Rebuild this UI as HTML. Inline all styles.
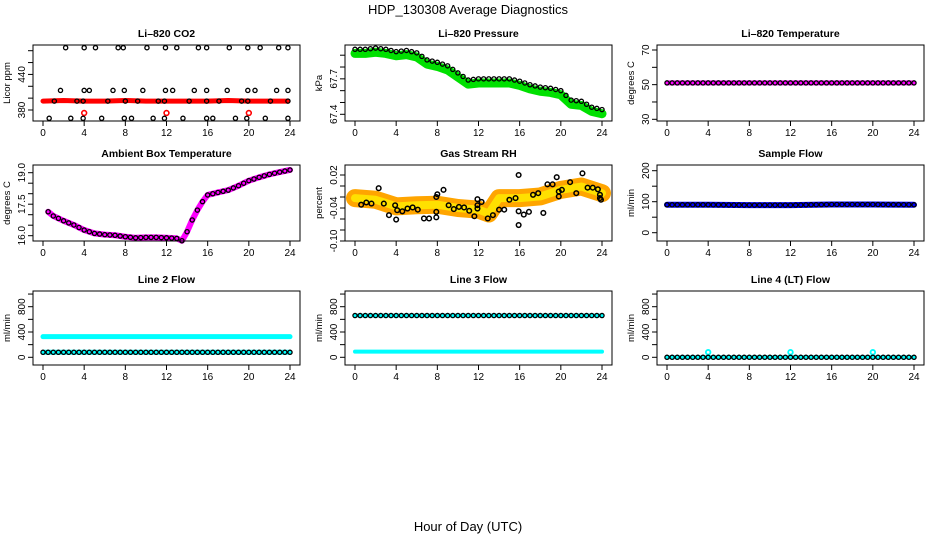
<!DOCTYPE html>
<html><head><meta charset="utf-8">
<style>
body{margin:0;background:#fff;}
svg{display:block;font-family:"Liberation Sans",sans-serif;}
</style></head>
<body>
<svg id="c" width="936" height="540" viewBox="0 0 936 540">
<text x="468" y="14" text-anchor="middle" font-size="13">HDP_130308  Average Diagnostics</text>
<text x="468" y="531" text-anchor="middle" font-size="13">Hour of Day (UTC)</text>
</svg>
<script>
// ---- data arrays ----
const xTicks = [0,4,8,12,16,20,24];
// CO2
const co2Hours = [2.2,4,5.1,7.3,7.8,10.1,11.9,13,15.1,15.9,18.1,19.9,21.1,22.9,23.8, 1.7,4,4.5,6.8,7.9,9.7,11.9,12.6,14.7,15.9,17.9,19.9,20.6,22.7,23.8, 1.1,3.3,3.9,6.3,8,9.2,11.2,11.8,14.2,15.9,17.1,19.3,19.9,22.1,23.8, 0.6,2.7,3.9,5.7,7.9,8.6,10.7,11.8,13.6,15.9,16.5,18.7,19.8,21.6,23.8];
const co2Values = [485,485,485,485,485,485,485,485,485,485,485,485,485,485,485, 413,413,413,413,413,413,413,413,413,413,413,413,413,413,413, 395,395,395,395,395,395,395,395,395,395,395,395,395,395,395, 366,366,366,366,366,366,366,366,366,366,366,366,366,366,366];
const co2RedHours = [0,2,4,6,8,10,12,14,16,18,20,22,23.8];
const co2RedValues = [395,396,395,395,396,395,395,395,395,396,395,395,395];
const co2RedOutHours = [4,12,20];
const co2RedOutValues = [375,375,375];
// Pressure
const presHours = [0,1,2,3,4,5,6,7,8,9,10,11,12,13,14,15,16,17,18,19,20,21,22,23,24];
const presValues = [67.95,67.95,67.96,67.95,67.93,67.94,67.92,67.86,67.84,67.81,67.75,67.69,67.70,67.70,67.70,67.70,67.68,67.65,67.63,67.62,67.60,67.52,67.51,67.46,67.44];
// Li-820 temperature
const ltHours = [0,2,4,6,8,10,12,14,16,18,20,22,24];
const ltValues = [51,51,51,51,51,51,51,51,51,51,51,51,51];
// Ambient box temperature
const abHours = [0.5,1,2,3,4,5,6,7,8,9,10,11,12,13,13.5,14,14.5,15,15.5,16,17,18,19,20,21,22,23,24];
const abValues = [17.14,16.94,16.71,16.51,16.27,16.11,16.05,16.02,15.95,15.9,15.92,15.92,15.9,15.87,15.76,16.19,16.75,17.22,17.62,17.94,18.06,18.17,18.38,18.62,18.78,18.92,19.03,19.13];
// Gas stream RH
const rhHours = [0.6,1.1,1.6,2.3,2.8,3.3,3.9,4,4.1,4.6,5.1,5.6,6.1,6.7,7.2,7.9,7.9,7.9,8.0,8.6,9.1,9.6,10.1,10.6,11.1,11.6,11.9,11.9,11.9,12.3,12.9,13.4,14,14.5,15,15.6,15.9,15.9,15.9,16.4,16.9,17.3,17.8,18.3,18.7,19.2,19.6,19.8,19.8,20.1,20.9,21.5,22.1,22.6,23.1,23.6,23.8,23.8,23.9];
const rhValues = [-0.034,-0.030,-0.032,-0.004,-0.032,-0.053,-0.035,-0.061,-0.044,-0.046,-0.041,-0.039,-0.043,-0.059,-0.059,-0.020,-0.047,-0.057,-0.015,-0.007,-0.035,-0.042,-0.038,-0.039,-0.045,-0.055,-0.024,-0.035,-0.041,-0.029,-0.059,-0.053,-0.043,-0.043,-0.025,-0.022,0.020,-0.046,-0.071,-0.052,-0.047,-0.016,-0.013,-0.049,0.003,0.003,0.016,-0.019,-0.010,-0.007,0.007,-0.013,0.023,-0.003,-0.003,-0.006,-0.016,-0.022,-0.025];
const rhBandHours = [0,2,4,6,8,10,12,13,14,16,18,20,22,24];
const rhBandValues = [-0.022,-0.025,-0.037,-0.035,-0.034,-0.040,-0.043,-0.050,-0.022,-0.022,-0.019,-0.007,-0.001,-0.013];
// Sample flow
const sfHours = [0,4,8,12,16,20,24];
const sfValues = [90,90,89,89,91,91,90];
// Line 2
const l2Hours = [0,4,8,12,16,20,24];
const l2Cyan = [326,326,326,326,326,326,326];
const l2CyanLow = [80,80,80,80,80,80,80];
const l2Black = [79,79,79,79,79,79,79];
// Line 3
const l3Hours = [0,4,8,12,16,20,24];
const l3Black = [660,660,660,660,660,660,660];
const l3Cyan = [90,90,90,90,90,90,90];
// Line 4
const l4Hours = [0,4,8,12,16,20,24];
const l4Black = [0,0,0,0,0,0,0];
const l4SpikeHours = [4,12,20];
const l4SpikeValues = [80,80,80];

const svg = document.getElementById('c');
const NS = 'http://www.w3.org/2000/svg';
function mk(tag, attrs, parent){
  const e = document.createElementNS(NS, tag);
  for (const k in attrs) e.setAttribute(k, attrs[k]);
  (parent||svg).appendChild(e);
  return e;
}
const colL = [33,345,657];
const rowT = [45,165,291], rowB = [121,241,365];

function panel(col,row,title,ylab,yA,pA,yB,pB,yTicks,yLabels,name){
  const L = colL[col], R = L+267, T = rowT[row], B = rowB[row];
  const g = mk('g',{});
  
  
  const x = h => L+10 + h/24*247;
  const y = v => pA + (v-yA)*(pB-pA)/(yB-yA);
  const t = mk('text',{x:(L+R)/2,y:T-8,'text-anchor':'middle','font-size':10.5,'font-weight':'bold'},g);
  t.textContent = title;
  
  
  const yl = mk('text',{transform:`translate(${L-23},${(T+B)/2}) rotate(-90)`,'text-anchor':'middle','font-size':9.5},g);
  yl.textContent = ylab;
  
  
  const plot = mk('g',{},g);
  mk('rect',{x:L,y:T,width:R-L,height:B-T,fill:'none',stroke:'#000','stroke-width':1},g);
  yTicks.forEach(v=>{ mk('line',{x1:L-5,x2:L,y1:y(v),y2:y(v),stroke:'#000'},g); });
  yLabels.forEach(v=>{
    const tl = mk('text',{transform:`translate(${L-8},${y(v)}) rotate(-90)`,'text-anchor':'middle','font-size':10},g);
    tl.textContent = String(v);
    
    
  });
  xTicks.forEach(h=>{
    mk('line',{x1:x(h),x2:x(h),y1:B,y2:B+5,stroke:'#000'},g);
    const tl = mk('text',{x:x(h),y:B+15,'text-anchor':'middle','font-size':10},g);
    tl.textContent = String(h);
    
    
  });
  return {x,y,g:plot};
}
function band(p,hs,vs,color,w,name){
  const pts = hs.map((h,i)=>p.x(h)+','+p.y(vs[i])).join(' ');
  const e = mk('polyline',{points:pts,fill:'none',stroke:color,'stroke-width':w,'stroke-linejoin':'round','stroke-linecap':'round'},p.g);
  
  
}
function pts(p,hs,vs,color,name,r,sw){
  hs.forEach((h,i)=>{
    const c = mk('circle',{cx:p.x(h),cy:p.y(vs[i]),r:r||2.1,fill:'none',stroke:color,'stroke-width':sw||1.3},p.g);
    
    
  });
}
function series(p,hs,vs,color,name,step){
  const out = [[],[]];
  for (let i=0;i<hs.length-1;i++){
    const n = Math.max(1,Math.round((hs[i+1]-hs[i])/step));
    for (let k=0;k<n;k++){ const f=k/n; out[0].push(hs[i]+f*(hs[i+1]-hs[i])); out[1].push(vs[i]+f*(vs[i+1]-vs[i])); }
  }
  out[0].push(hs[hs.length-1]); out[1].push(vs[vs.length-1]);
  pts(p,out[0],out[1],color,name);
}

let p = panel(0,0,'Li\u2013820 CO2','Licor ppm',380,110,480,50.7,[380,400,420,440,460,480],[380,440],'co2');
band(p,co2RedHours,co2RedValues,'#f00',5,'co2-red-band');
pts(p,co2RedOutHours,co2RedOutValues,'#f00','co2-red-outlier',2.4,1.6);
pts(p,co2Hours,co2Values,'#000','co2-point');

p = panel(1,0,'Li\u2013820 Pressure','kPa',67.4,114.3,67.9,55.2,[67.4,67.5,67.6,67.7,67.8,67.9],[67.4,67.7],'pressure');
band(p,presHours,presValues.map(v=>v-0.035),'#00e000',9,'pressure-green-band');
series(p,presHours,presValues,'#000','pressure-point',0.5);

p = panel(2,0,'Li\u2013820 Temperature','degrees C',30,119.3,70,50,[30,40,50,60,70],[30,50,70],'li820-temp');
band(p,ltHours,ltValues,'#f0f',5,'li820-temp-band');
series(p,ltHours,ltValues,'#000','li820-temp-point',0.5);

p = panel(0,1,'Ambient Box Temperature','degrees C',16,235.7,19,172.7,[16,16.5,17,17.5,18,18.5,19],[16.0,17.5,19.0].map(v=>v.toFixed(1)),'ambient-temp');
band(p,abHours,abValues,'#f0f',6,'ambient-temp-band');
series(p,abHours,abValues,'#000','ambient-temp-point',0.5);

p = panel(1,1,'Gas Stream RH','percent',0.02,175,-0.10,241,[0.02,0,-0.02,-0.04,-0.06,-0.08,-0.10],[0.02,-0.04,-0.10].map(v=>v.toFixed(2)),'gas-rh');
band(p,rhBandHours,rhBandValues,'#ffa500',18,'gas-rh-band-outer');
band(p,rhBandHours,rhBandValues,'#ffe000',8,'gas-rh-band-inner');
pts(p,rhHours,rhValues,'#000','gas-rh-point',2.3,1.5);

p = panel(2,1,'Sample Flow','ml/min',0,232.7,200,170.7,[0,50,100,150,200],[0,100,200],'sample-flow');
band(p,sfHours,sfValues,'#0000ff',6,'sample-flow-band');
series(p,sfHours,sfValues,'#000','sample-flow-point',0.5);

p = panel(0,2,'Line 2 Flow','ml/min',0,357.3,800,306.7,[0,200,400,600,800,1000],[0,400,800],'line2-flow');
band(p,l2Hours,l2Cyan,'#00ffff',5,'line2-cyan-band');
band(p,l2Hours,l2CyanLow,'#00ffff',5,'line2-cyan-low-band');
series(p,l2Hours,l2Black,'#000','line2-point',0.5);

p = panel(1,2,'Line 3 Flow','ml/min',0,357.3,800,306.7,[0,200,400,600,800,1000],[0,400,800],'line3-flow');
band(p,l3Hours,l3Cyan,'#00ffff',4,'line3-cyan-band');
band(p,l3Hours,l3Black,'#00ffff',4,'line3-cyan-top-band');
series(p,l3Hours,l3Black,'#000','line3-point',0.5);

p = panel(2,2,'Line 4 (LT) Flow','ml/min',0,357.3,800,306.7,[0,200,400,600,800,1000],[0,400,800],'line4-flow');
band(p,l4Hours,l4Black,'#00ffff',4,'line4-cyan-band');
pts(p,l4SpikeHours,l4SpikeValues,'#00ffff','line4-cyan-spike',2.3,1.8);
series(p,l4Hours,l4Black,'#000','line4-point',0.5);
</script>
</body></html>
